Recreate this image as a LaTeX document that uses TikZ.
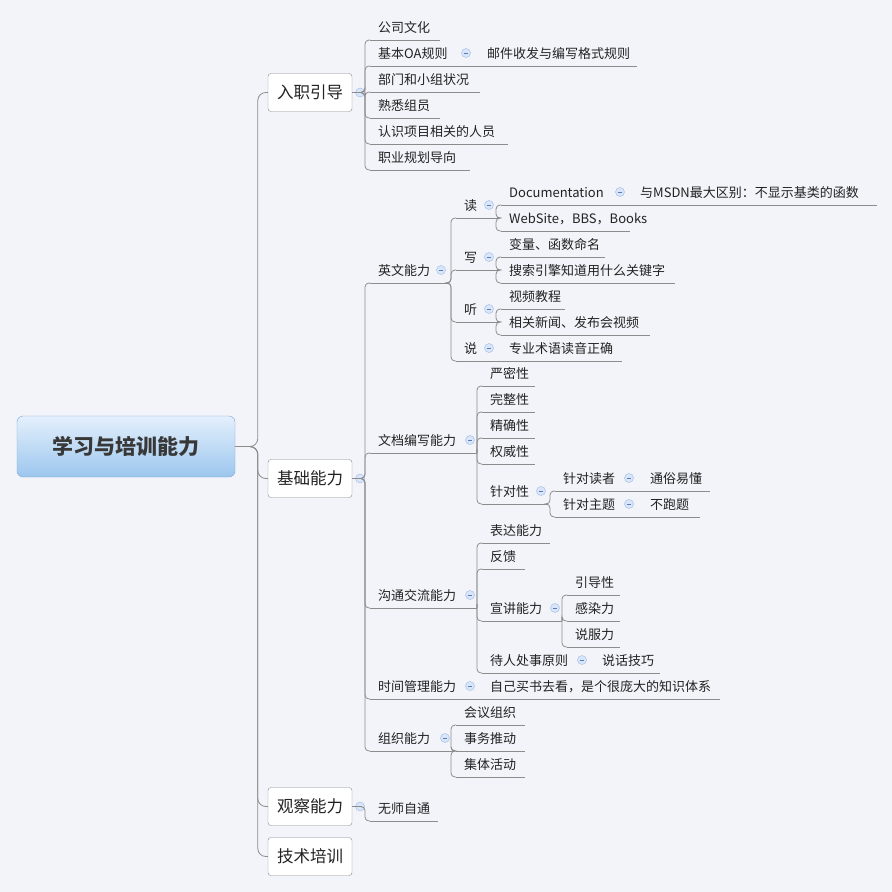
\documentclass[tikz,border=0pt]{standalone}
\usepackage{fontspec}
\setmainfont{Noto Sans CJK SC}
\usetikzlibrary{calc}
\definecolor{bg}{HTML}{F3F4FA}
\definecolor{lnc}{HTML}{8C8C8C}
\definecolor{txt}{HTML}{222222}
\definecolor{rtop}{HTML}{E4F0FC}
\definecolor{rbot}{HTML}{9CC6EE}
\definecolor{rbd}{HTML}{7FA6D0}
\definecolor{cfill}{HTML}{D9E6FA}
\definecolor{cdraw}{HTML}{A8C0E6}
\definecolor{cmin}{HTML}{5A7CB8}
\tikzset{
 ln/.style={draw=lnc,line width=0.8pt},
 lt/.style={inner sep=0pt,font=\fontsize{13}{15}\selectfont,text=txt},
 coll/.style={circle,minimum size=9pt,inner sep=0pt,fill=cfill,draw=cdraw,line width=0.5pt,
   path picture={\draw[cmin,line width=0.6pt] ($(path picture bounding box.center)+(-2.2pt,0)$)--($(path picture bounding box.center)+(2.2pt,0)$);}},
 lvone/.style={draw=lnc,fill=white,rounded corners=3pt,minimum width=84pt,minimum height=38pt,inner sep=0pt,font=\fontsize{16.5}{18}\selectfont,text=txt},
}
\newcommand\leaf[5]{%
 \coordinate (#1s) at (#2,#3); \coordinate (#1e) at (#4,#3);
 \node[lt,anchor=base west] (#1) at (#2+8,#3-8) {#5};
 \draw[ln] (#1s)--(#1e);}
\newcommand\conn[2]{\draw[ln,rounded corners=4pt] (#1) -| ($(#2)+(-5pt,0)$) -- (#2);}
\begin{document}
\begin{tikzpicture}[x=1pt,y=-1pt]
\fill[bg] (0,0) rectangle (892,892);
\useasboundingbox (0,0) rectangle (892,892);
% root
\node[draw=rbd,rounded corners=6pt,top color=rtop,bottom color=rbot,minimum width=218pt,minimum height=61pt,font=\bfseries\fontsize{21}{24}\selectfont,text=black!78] (root) at (126,446.5) {学习与培训能力};
\node[lvone] (A) at (310,92.5) {入职引导};
\node[lvone] (B) at (310,478.5) {基础能力};
\node[lvone] (C) at (310,806.5) {观察能力};
\node[lvone] (D) at (310,856.5) {技术培训};
\draw[ln,rounded corners=8pt] (root.east) -| ($(A.west)+(-10pt,0)$) -- (A.west);
\draw[ln,rounded corners=8pt] (root.east) -| ($(B.west)+(-10pt,0)$) -- (B.west);
\draw[ln,rounded corners=8pt] (root.east) -| ($(C.west)+(-10pt,0)$) -- (C.west);
\draw[ln,rounded corners=8pt] (root.east) -| ($(D.west)+(-10pt,0)$) -- (D.west);
\node[coll] (cA) at (360,92.5) {};
\node[coll] (cB) at (360,478.5) {};
\node[coll] (cC) at (360,806.5) {};
% 入职引导
\leaf{a1}{370}{40}{440}{公司文化}
\leaf{a2}{370}{66}{473}{基本OA规则}
\leaf{a21}{479}{66}{637}{邮件收发与编写格式规则}
\leaf{a3}{370}{92}{480}{部门和小组状况}
\leaf{a4}{370}{118}{440}{熟悉组员}
\leaf{a5}{370}{144}{508}{认识项目相关的人员}
\leaf{a6}{370}{170}{470}{职业规划导向}
\node[coll] (ca2) at (466,53) {};
\foreach \n in {a1,a2,a3,a4,a5,a6}{\conn{A.east}{\n s}}
\draw[ln] (a2e)--(a21s);
% 基础能力
\leaf{b1}{370}{283}{448}{英文能力}
\leaf{b2}{370}{453}{477}{文档编写能力}
\leaf{b3}{370}{608}{477}{沟通交流能力}
\leaf{b4}{370}{699}{477}{时间管理能力}
\leaf{b5}{370}{751}{452}{组织能力}
\foreach \n in {b1,b2,b3,b4,b5}{\conn{B.east}{\n s}}
\node[coll] (cb1) at (441,270) {};
\node[coll] (cb2) at (470,440) {};
\node[coll] (cb3) at (470,595) {};
\node[coll] (cb4) at (470,686) {};
\node[coll] (cb5) at (445,738) {};
% 英文能力
\leaf{r}{456}{218}{497}{读}
\leaf{w}{456}{270}{497}{写}
\leaf{l}{456}{322}{497}{听}
\leaf{s}{456}{361}{497}{说}
\foreach \n in {r,w,l,s}{\conn{b1e}{\n s}}
\node[coll] (cr) at (489,205) {};
\node[coll] (cw) at (489,257) {};
\node[coll] (cl) at (489,309) {};
\node[coll] (cs) at (489,348) {};
\leaf{r1}{501}{205}{628}{Documentation}
\leaf{r11}{632}{205}{877}{与MSDN最大区别：不显示基类的函数}
\leaf{r2}{501}{231}{630}{WebSite，BBS，Books}
\node[coll] (cr1) at (620,192) {};
\conn{re}{r1s}\conn{re}{r2s}
\draw[ln] (r1e)--(r11s);
\leaf{w1}{501}{257}{605}{变量、函数命名}
\leaf{w2}{501}{283}{675}{搜索引擎知道用什么关键字}
\conn{we}{w1s}\conn{we}{w2s}
\leaf{l1}{501}{309}{565}{视频教程}
\leaf{l2}{501}{335}{650}{相关新闻、发布会视频}
\conn{le}{l1s}\conn{le}{l2s}
\leaf{s1}{501}{361}{622}{专业术语读音正确}
\draw[ln] (se)--(s1s);
% 文档编写能力
\leaf{d1}{482}{386}{535}{严密性}
\leaf{d2}{482}{412}{535}{完整性}
\leaf{d3}{482}{438}{535}{精确性}
\leaf{d4}{482}{464}{535}{权威性}
\leaf{d5}{482}{504}{548}{针对性}
\foreach \n in {d1,d2,d3,d4,d5}{\conn{b2e}{\n s}}
\node[coll] (cd5) at (541,491) {};
\leaf{d51}{555}{491}{637}{针对读者}
\leaf{d52}{555}{517}{637}{针对主题}
\conn{d5e}{d51s}\conn{d5e}{d52s}
\node[coll] (cd51) at (629,478) {};
\node[coll] (cd52) at (629,504) {};
\leaf{d511}{642}{491}{710}{通俗易懂}
\leaf{d521}{642}{517}{700}{不跑题}
\draw[ln] (d51e)--(d511s);
\draw[ln] (d52e)--(d521s);
% 沟通交流能力
\leaf{g1}{482}{543}{550}{表达能力}
\leaf{g2}{482}{569}{525}{反馈}
\leaf{g3}{482}{621}{562}{宣讲能力}
\leaf{g4}{482}{673}{589}{待人处事原则}
\foreach \n in {g1,g2,g3,g4}{\conn{b3e}{\n s}}
\node[coll] (cg3) at (555,608) {};
\node[coll] (cg4) at (582,660) {};
\leaf{g31}{567}{595}{620}{引导性}
\leaf{g32}{567}{621}{620}{感染力}
\leaf{g33}{567}{647}{620}{说服力}
\foreach \n in {g31,g32,g33}{\conn{g3e}{\n s}}
\leaf{g41}{594}{673}{660}{说话技巧}
\draw[ln] (g4e)--(g41s);
% 时间管理能力
\leaf{t1}{482}{699}{720}{自己买书去看，是个很庞大的知识体系}
\draw[ln] (b4e)--(t1s);
% 组织能力
\leaf{o1}{456}{725}{525}{会议组织}
\leaf{o2}{456}{751}{525}{事务推动}
\leaf{o3}{456}{777}{525}{集体活动}
\foreach \n in {o1,o2,o3}{\conn{b5e}{\n s}}
% 观察能力
\leaf{c1}{370}{821}{438}{无师自通}
\conn{C.east}{c1s}
\end{tikzpicture}
\end{document}
